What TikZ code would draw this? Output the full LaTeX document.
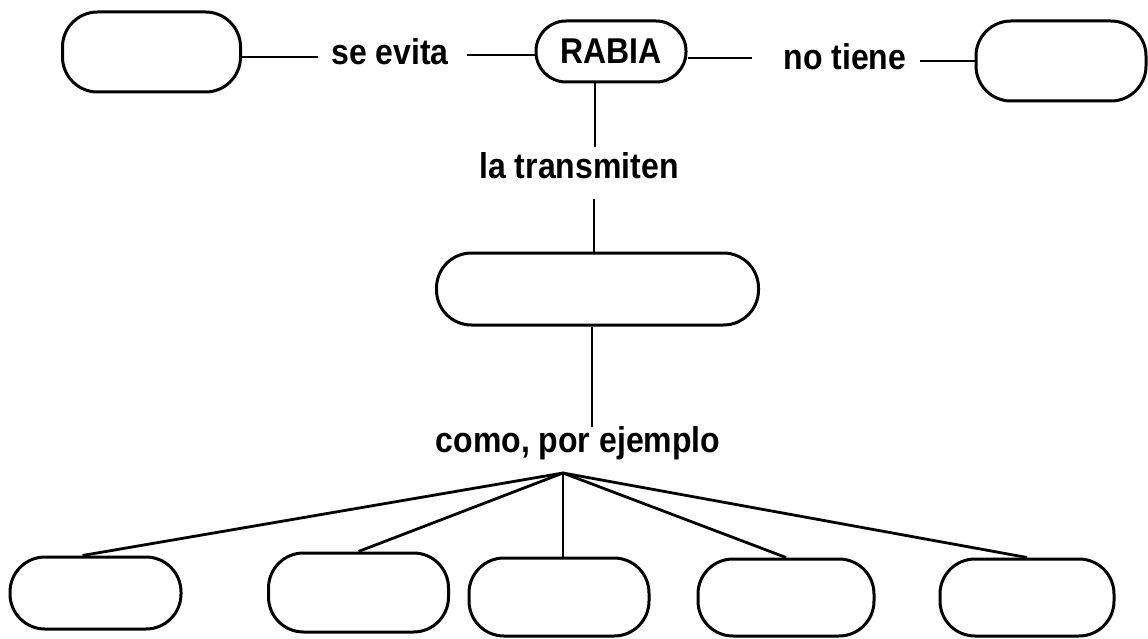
\documentclass[tikz,border=0pt]{standalone}
\usepackage{fontspec}
\setmainfont{Liberation Sans}
\newcommand{\tallt}[1]{\scalebox{1}[1.12]{#1}}
\begin{document}
\begin{tikzpicture}[x=1pt,y=-1pt,
  box/.style={draw, line width=3pt, rounded corners=35pt, inner sep=0pt},
  lbl/.style={font=\fontsize{32}{38}\selectfont\bfseries, inner sep=0pt},
  link/.style={line width=2.8pt}]
\useasboundingbox (0,0) rectangle (1148,639);
% boxes
\node[box, minimum width=178pt, minimum height=80pt] (tl) at (151.5,52) {};
\node[box, lbl, rounded corners=30pt, minimum width=150pt, minimum height=61pt] (rabia) at (611,51.5) {\tallt{RABIA}};
\node[box, minimum width=170pt, minimum height=80pt] (tr) at (1061,61) {};
\node[box, minimum width=322pt, minimum height=72pt] (mid) at (597.5,289) {};
\node[box, minimum width=171pt, minimum height=72pt] (b1) at (95.5,593) {};
\node[box, minimum width=180pt, minimum height=79pt] (b2) at (358.5,592.5) {};
\node[box, minimum width=180pt, minimum height=78pt] (b3) at (559,597) {};
\node[box, minimum width=176pt, minimum height=77pt] (b4) at (786,597.5) {};
\node[box, minimum width=174pt, minimum height=77pt] (b5) at (1027,597.5) {};
% labels
\node[lbl] (sevita) at (390,52) {\tallt{se evita}};
\node[lbl] (notiene) at (845,57) {\tallt{no tiene}};
\node[lbl] (trans) at (579,166) {\tallt{la transmiten}};
\node[lbl] (ejemplo) at (578,443) {\tallt{como, por ejemplo}};
% free ends of connectors
\coordinate (s1) at (318,57);
\coordinate (s2) at (467,55);
\coordinate (n1) at (752,58);
\coordinate (n2) at (920,61);
\coordinate (t1) at (595,147);
\coordinate (t2) at (594,199);
\coordinate (c1) at (592,427);
\coordinate (apex) at (563,473);
% connectors
\draw[link] (tl.east |- s1) -- (s1);
\draw[link] (s2) -- (s2 -| rabia.west);
\draw[link] (rabia.east |- n1) -- (n1);
\draw[link] (n2) -- (n2 -| tr.west);
\draw[link] (rabia.south -| t1) -- (t1);
\draw[link] (t2) -- (t2 |- mid.north);
\draw[link] (mid.south -| c1) -- (c1);
\draw[link] (apex) -- ([xshift=-13pt]b1.north);
\draw[link] (apex) -- (b2.north);
\draw[link] (apex) -- (apex |- b3.north);
\draw[link] (apex) -- (b4.north);
\draw[link] (apex) -- (b5.north);
\end{tikzpicture}
\end{document}
